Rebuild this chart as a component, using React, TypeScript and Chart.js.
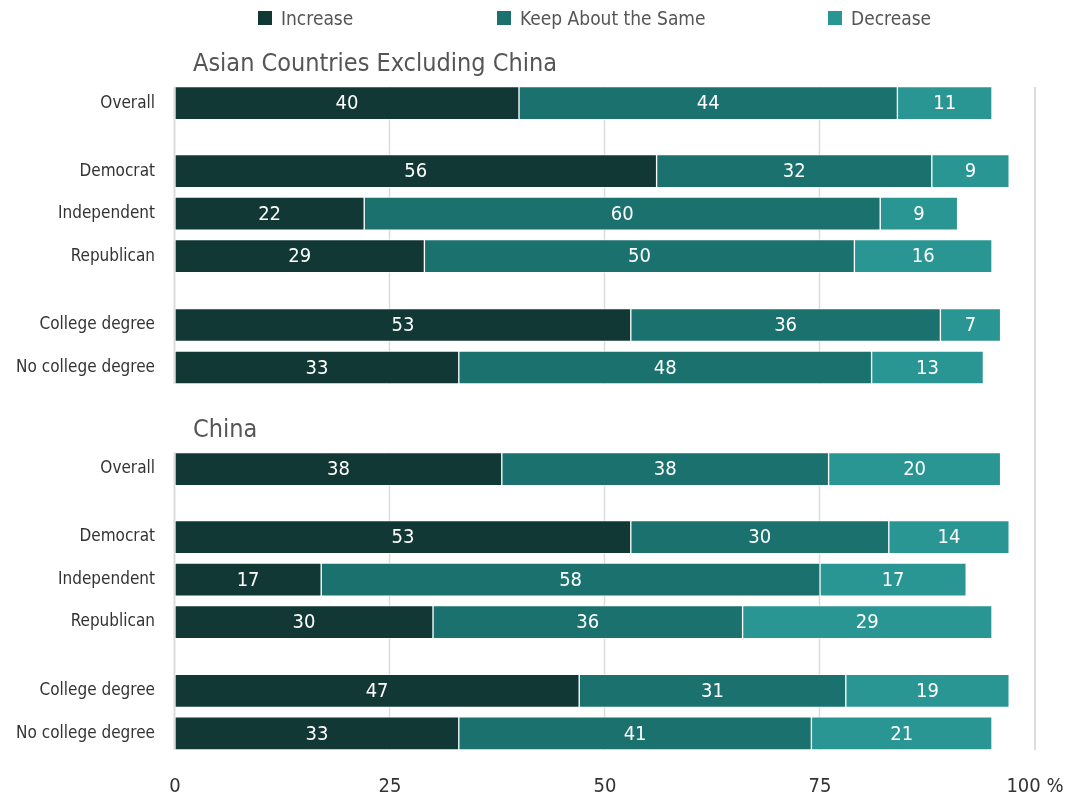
import React, { useEffect, useRef } from "react";
import { Chart, registerables } from "chart.js";

Chart.register(...registerables);

// ---- data ----
const groupTitles = ["Asian Countries Excluding China", "China"];
const categories = ["Overall", "Democrat", "Independent", "Republican", "College degree", "No college degree"];
const seriesNames = ["Increase", "Keep About the Same", "Decrease"];

const asiaIncrease = [40, 56, 22, 29, 53, 33];
const asiaKeep = [44, 32, 60, 50, 36, 48];
const asiaDecrease = [11, 9, 9, 16, 7, 13];

const chinaIncrease = [38, 53, 17, 30, 47, 33];
const chinaKeep = [38, 30, 58, 36, 31, 41];
const chinaDecrease = [20, 14, 17, 29, 19, 21];

const xTicks = [0, 25, 50, 75, 100];

// ---- layout / styles ----
const FONT = "'DejaVu Sans Condensed', 'Liberation Sans Narrow', sans-serif";
const colors = ["#123836", "#1b716e", "#2a9693"];
const rowOffsets = [0, 1.6, 2.6, 3.6, 5.22, 6.22];
const groupOffsets = [0, 8.61];
const titleOffset = -0.9;
const BAR = 33;

const yPos = groupOffsets.flatMap((g) => rowOffsets.map((o) => g + o));
const allLabels = [...categories, ...categories];
const seriesValues = [
  [...asiaIncrease, ...chinaIncrease],
  [...asiaKeep, ...chinaKeep],
  [...asiaDecrease, ...chinaDecrease],
];

const gridPlugin = {
  id: "groupGrid",
  beforeDatasetsDraw(chart: any) {
    const { ctx, chartArea, scales } = chart;
    const xs = scales.x;
    const ys = scales.y;
    ctx.save();
    ctx.strokeStyle = "#dcdcdc";
    groupOffsets.forEach((g) => {
      const top = ys.getPixelForValue(g + rowOffsets[0]) - BAR / 2;
      const bottom = ys.getPixelForValue(g + rowOffsets[rowOffsets.length - 1]) + BAR / 2;
      xTicks.slice(0, -1).forEach((t) => {
        const px = Math.round(xs.getPixelForValue(t)) - 0.5;
        ctx.lineWidth = t === 0 ? 2 : 1.5;
        ctx.beginPath();
        ctx.moveTo(px, top);
        ctx.lineTo(px, bottom);
        ctx.stroke();
      });
    });
    const p100 = Math.round(xs.getPixelForValue(100));
    ctx.lineWidth = 2;
    ctx.beginPath();
    ctx.moveTo(p100, chartArea.top);
    ctx.lineTo(p100, chartArea.bottom);
    ctx.stroke();
    ctx.restore();
  },
  afterDraw(chart: any) {
    const { ctx, scales } = chart;
    const ys = scales.y;
    ctx.save();
    ctx.fillStyle = "#555555";
    ctx.font = `25px ${FONT}`;
    ctx.textBaseline = "middle";
    ctx.textAlign = "left";
    groupTitles.forEach((t, i) => {
      ctx.fillText(t, 193, ys.getPixelForValue(groupOffsets[i] + titleOffset));
    });
    ctx.restore();
  },
};

const valueLabelPlugin = {
  id: "valueLabels",
  afterDatasetsDraw(chart: any) {
    const { ctx } = chart;
    ctx.save();
    ctx.fillStyle = "#ffffff";
    ctx.font = `20px ${FONT}`;
    ctx.textAlign = "center";
    ctx.textBaseline = "middle";
    chart.data.datasets.forEach((ds: any, di: number) => {
      const meta = chart.getDatasetMeta(di);
      meta.data.forEach((el: any, i: number) => {
        const v = ds.data[i].x;
        const cx = (el.x + el.base) / 2;
        ctx.fillText(String(v), cx, el.y + 1);
      });
    });
    ctx.restore();
  },
};

export default function App() {
  const ref = useRef<HTMLCanvasElement>(null);

  useEffect(() => {
    const datasets = seriesNames.map((name, si) => ({
      label: name,
      data: seriesValues[si].map((v, i) => ({ x: v, y: yPos[i] })),
      backgroundColor: colors[si],
      borderColor: "rgba(255,255,255,0.55)",
      borderWidth: 1,
      borderSkipped: false,
      barThickness: BAR,
    }));

    const chart = new Chart(ref.current!, {
      type: "bar",
      data: { datasets },
      plugins: [gridPlugin, valueLabelPlugin],
      options: {
        indexAxis: "y",
        responsive: false,
        animation: false,
        layout: { padding: { top: 87, right: 40, bottom: 0, left: 0 } },
        plugins: {
          legend: { display: false },
          tooltip: { enabled: false },
        },
        scales: {
          x: {
            type: "linear",
            stacked: true,
            min: 0,
            max: 100,
            afterBuildTicks: (s: any) => {
              s.ticks = xTicks.map((v) => ({ value: v }));
            },
            afterFit: (s: any) => {
              s.height = 48;
              s.paddingLeft = 0;
              s.paddingRight = 0;
            },
            grid: { display: false, drawTicks: false },
            border: { display: false },
            ticks: {
              padding: 25,
              color: "#333333",
              font: { family: FONT, size: 20 },
              callback: (v: any) => (v === 100 ? "100 %" : String(v)),
            },
          },
          y: {
            type: "linear",
            stacked: true,
            reverse: true,
            offset: false,
            min: -0.38,
            max: 15.22,
            afterBuildTicks: (s: any) => {
              s.ticks = yPos.map((v) => ({ value: v }));
            },
            afterFit: (s: any) => {
              s.width = 175;
              s.paddingTop = 0;
              s.paddingBottom = 0;
            },
            grid: { display: false, drawTicks: false },
            border: { display: false },
            ticks: {
              autoSkip: false,
              padding: 20,
              color: "#333333",
              font: { family: FONT, size: 17 },
              callback: (_v: any, i: number) => allLabels[i],
            },
          },
        },
      },
    } as any);
    return () => chart.destroy();
  }, []);

  const legendLefts = [258, 497, 828];

  return (
    <div style={{ position: "absolute", left: 0, top: 0, width: 1075, height: 798, background: "#fff", overflow: "hidden" }}>
      <canvas ref={ref} width={1075} height={798} style={{ position: "absolute", left: 0, top: 0 }} />
      {seriesNames.map((name, i) => (
        <div
          key={name}
          style={{
            position: "absolute",
            left: legendLefts[i],
            top: 6,
            height: 24,
            display: "flex",
            alignItems: "center",
            fontFamily: FONT,
            fontSize: 19,
            color: "#555555",
            whiteSpace: "nowrap",
          }}
        >
          <span style={{ display: "inline-block", width: 14, height: 14, background: colors[i], marginRight: 9 }} />
          {name}
        </div>
      ))}
    </div>
  );
}
